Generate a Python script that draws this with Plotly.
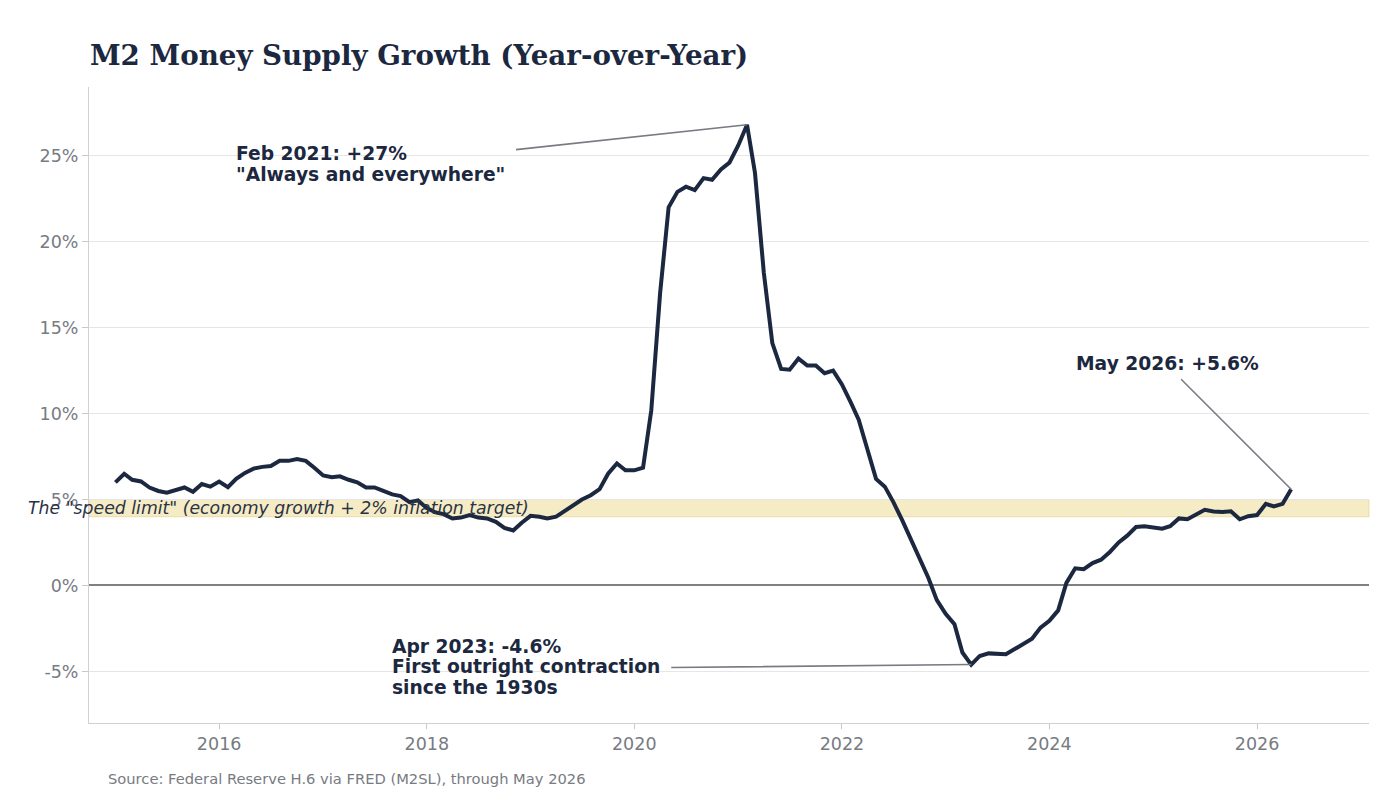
import pandas as pd
import plotly.graph_objects as go

# Monthly M2 YoY growth (%), Jan 2015 - May 2026
dates = pd.date_range("2015-01-01", "2026-05-01", freq="MS")
growth = [
    # 2015
    6.0, 6.5, 6.15, 6.05, 5.7, 5.5, 5.4, 5.55, 5.7, 5.45, 5.9, 5.75,
    # 2016
    6.05, 5.72, 6.2, 6.55, 6.8, 6.9, 6.95, 7.25, 7.25, 7.35, 7.25, 6.85,
    # 2017
    6.4, 6.3, 6.35, 6.15, 6.0, 5.7, 5.7, 5.5, 5.3, 5.2, 4.85, 4.95,
    # 2018
    4.5, 4.25, 4.15, 3.9, 3.95, 4.1, 3.95, 3.9, 3.7, 3.35, 3.2, 3.65,
    # 2019
    4.05, 4.0, 3.9, 4.0, 4.35, 4.7, 5.0, 5.25, 5.6, 6.5, 7.1, 6.7,
    # 2020
    6.7, 6.85, 10.2, 17.0, 22.0, 22.9, 23.2, 23.0, 23.7, 23.6, 24.2, 24.6,
    # 2021
    25.6, 26.8, 24.0, 18.2, 14.1, 12.6, 12.55, 13.2, 12.8, 12.8, 12.35, 12.5,
    # 2022
    11.7, 10.65, 9.65, 7.9, 6.2, 5.75, 4.85, 3.8, 2.7, 1.55, 0.45, -0.85,
    # 2023
    -1.65, -2.25, -3.9, -4.6, -4.1, -3.95, -4.0, -4.0, -3.7, -3.4, -3.1, -2.45,
    # 2024
    -2.05, -1.45, 0.15, 1.0, 0.95, 1.3, 1.5, 1.95, 2.5, 2.9, 3.4, 3.45,
    # 2025
    3.4, 3.3, 3.45, 3.9, 3.85, 4.15, 4.4, 4.3, 4.28, 4.32, 3.85, 4.03,
    # 2026
    4.1, 4.75, 4.6, 4.75, 5.6,
]

band_low, band_high = 4, 5
y_tick_vals = [-5, 0, 5, 10, 15, 20, 25]
y_tick_text = ["-5%", "0%", "5%", "10%", "15%", "20%", "25%"]

peak_label = ["Feb 2021: +27%", "\"Always and everywhere\""]
trough_label = ["Apr 2023: -4.6%", "First outright contraction", "since the 1930s"]
latest_label = ["May 2026: +5.6%"]

NAVY = "#1c2840"
GRAY = "#777b82"

fig = go.Figure()
fig.add_trace(go.Scatter(
    x=dates, y=growth, mode="lines",
    line=dict(color=NAVY, width=4),
    hoverinfo="x+y", showlegend=False,
))

fig.add_hrect(y0=band_low, y1=band_high, fillcolor="rgba(235,215,140,0.5)",
              line=dict(color="rgba(225,205,130,0.6)", width=1), layer="below")

fig.add_annotation(
    xref="paper", yref="y", x=-0.049, y=(band_low + band_high) / 2,
    xanchor="left", yanchor="middle", showarrow=False,
    text="<i>The \"speed limit\" (economy growth + 2% inflation target)</i>",
    font=dict(family="DejaVu Sans", size=17.3, color="#2a3345"),
)

# leader lines (arrow only)
arrow_kw = dict(text=" ", showarrow=True, arrowhead=0, arrowwidth=1.6, arrowcolor=GRAY,
                font=dict(size=2))
fig.add_annotation(x=dates[73], y=growth[73], ax=-233, ay=25, **arrow_kw)
fig.add_annotation(x=dates[99], y=growth[99], ax=-302, ay=3, **arrow_kw)
fig.add_annotation(x=dates[-1], y=growth[-1], ax=-112, ay=-112, **arrow_kw)

# label texts, one annotation per line for tight line spacing
ann_font = dict(family="DejaVu Sans", size=18.7, color=NAVY)

def add_label(lines, x_paper, y_first, step):
    for k, line in enumerate(lines):
        fig.add_annotation(xref="paper", yref="paper", x=x_paper, y=y_first - k * step,
                           xanchor="left", yanchor="middle", showarrow=False,
                           text=f"<b>{line}</b>", font=ann_font)

line_step = 21 / 636
add_label(peak_label, 0.1134, 0.8947, line_step)
add_label(trough_label, 0.2352, 0.1203, 20.5 / 636)
add_label(latest_label, 0.7696, 0.5645, line_step)

fig.add_annotation(
    xref="paper", yref="paper", x=0.0135, y=-0.0865, xanchor="left", yanchor="middle",
    showarrow=False, text="Source: Federal Reserve H.6 via FRED (M2SL), through May 2026",
    font=dict(family="DejaVu Sans", size=14.7, color=GRAY),
)

fig.update_layout(
    width=1380, height=788,
    margin=dict(l=81, r=19, t=79, b=73),
    paper_bgcolor="white", plot_bgcolor="white",
    title=dict(text="<b>M2 Money Supply Growth (Year-over-Year)</b>",
               x=0.0594, xanchor="left", y=0.9404, yanchor="middle",
               font=dict(family="DejaVu Serif", size=27.7, color=NAVY)),
    font=dict(family="DejaVu Sans", color=GRAY),
)
fig.update_xaxes(
    range=["2014-09-30", "2027-01-30"],
    tick0="2016-01-01", dtick="M24", tickformat="%Y",
    showgrid=False, showline=True, linecolor="#d0d0d0", linewidth=1,
    ticks="outside", ticklen=5, tickcolor="#c8c8c8",
    tickfont=dict(family="DejaVu Sans", size=17.5, color=GRAY),
    zeroline=False,
)
fig.update_yaxes(
    range=[-8, 29], tickvals=y_tick_vals, ticktext=y_tick_text,
    showgrid=True, gridcolor="#e6e6e6", gridwidth=1,
    showline=True, linecolor="#d0d0d0", linewidth=1,
    ticks="outside", ticklen=6, tickcolor="#c8c8c8",
    tickfont=dict(family="DejaVu Sans", size=17.5, color=GRAY),
    zeroline=True, zerolinecolor="#808080", zerolinewidth=1.5,
)

fig.write_html("out.html")
